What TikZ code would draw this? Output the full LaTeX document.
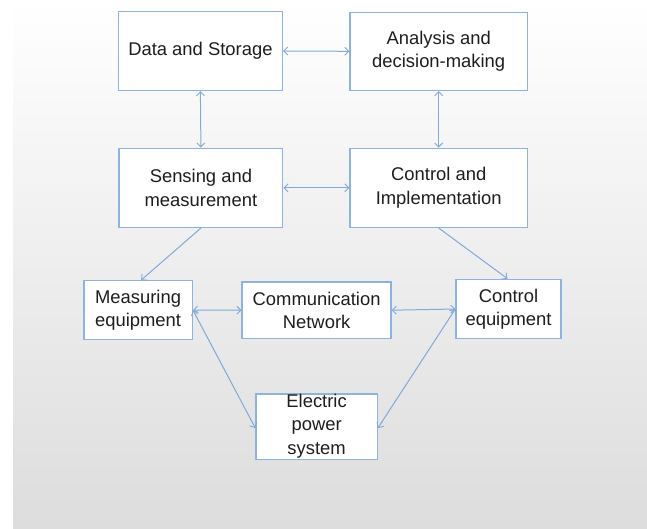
\documentclass[tikz,border=0pt]{standalone}
\usepackage{fontspec}
\setmainfont{Liberation Sans}
\usetikzlibrary{arrows.meta}
\definecolor{boxblue}{HTML}{8DB3DE}
\definecolor{arrblue}{HTML}{7FAAD9}
\definecolor{txt}{HTML}{1E1E1E}
\begin{document}
\begin{tikzpicture}[x=1pt,y=-1pt,
  blk/.style={draw=boxblue, line width=1.3pt, fill=white, inner sep=0pt,
    align=center, text=txt, font=\fontsize{18.4}{23.5}\selectfont},
  tip/.tip={Straight Barb[length=4pt,width=8pt,line width=0.9pt]},
  conn/.style={draw=arrblue, line width=1pt},
  both/.style={conn, tip-tip},
  fwd/.style={conn, -tip}]
\useasboundingbox (0,0) rectangle (647,528);
\fill[white] (0,0) rectangle (647,528);
\shade[top color=white, bottom color=gray!27] (13,0) rectangle (647,528);

\node[blk, minimum width=164pt, minimum height=79pt] (data) at (200.4,51) {Data and Storage};
\node[blk, minimum width=177.3pt, minimum height=78.3pt] (anal) at (438.7,51.3) {Analysis and\\decision-making};
\node[blk, minimum width=163.8pt, minimum height=79.2pt] (sens) at (200.9,187.8) {Sensing and\\measurement};
\node[blk, minimum width=177.3pt, minimum height=79.2pt] (ctrl) at (438.7,187.8) {Control and\\Implementation};
\node[blk, minimum width=108.3pt, minimum height=58.6pt] (meas) at (138.1,310.1) {Measuring\\equipment};
\node[blk, minimum width=149pt, minimum height=56.4pt] (comm) at (316.6,310.2) {Communication\\Network};
\node[blk, minimum width=105pt, minimum height=59.3pt] (ceq) at (508.5,309) {Control\\equipment};
\node[blk, minimum width=121.2pt, minimum height=65.3pt] (elec) at (316.6,426.6)
  {\smash{\raisebox{-4pt}{\begin{tabular}{@{}c@{}}Electric\\power\\system\end{tabular}}}};

\draw[both] (data.east) -- (anal.west);
\draw[both] (data.south) -- (sens.north);
\draw[both] (anal.south) -- (ctrl.north);
\draw[both] (sens.east) -- (ctrl.west);
\draw[fwd] (sens.south) -- ([xshift=3pt]meas.north);
\draw[fwd] (ctrl.south) -- ([xshift=-1pt]ceq.north);
\draw[both] (meas.east) -- (comm.west);
\draw[both] (comm.east) -- (ceq.west);
\draw[both] (meas.east) -- ([yshift=-1.5pt]elec.west);
\draw[both] (ceq.west) -- ([yshift=-1.5pt]elec.east);
\end{tikzpicture}
\end{document}
